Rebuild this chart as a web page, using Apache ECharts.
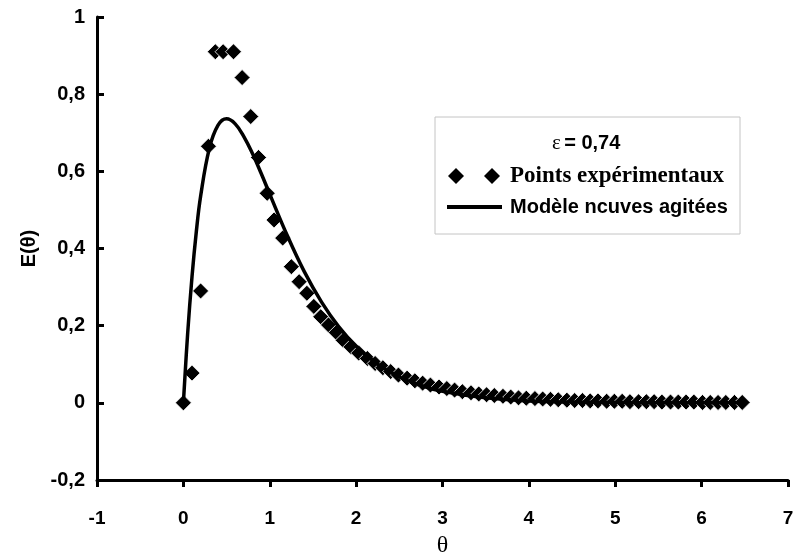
<!DOCTYPE html>
<html>
<head>
<meta charset="utf-8">
<script src="https://cdn.jsdelivr.net/npm/echarts@6/dist/echarts.min.js"></script>
<style>
  html, body { margin: 0; padding: 0; background: #fff; }
  #chart { width: 795px; height: 559px; }
</style>
</head>
<body>
<div id="chart"></div>
<script>
// Reduced residence time θ of the experimental samples
var thetaExp = [
  0.00, 0.10, 0.20, 0.29, 0.37, 0.46, 0.58, 0.68, 0.78, 0.87,
  0.97, 1.05, 1.15, 1.25, 1.34, 1.43, 1.51, 1.59, 1.68, 1.77,
  1.85, 1.94, 2.03, 2.13, 2.22, 2.31, 2.40, 2.49, 2.59, 2.68,
  2.77, 2.86, 2.96, 3.05, 3.14, 3.23, 3.33, 3.42, 3.51, 3.60,
  3.70, 3.79, 3.88, 3.97, 4.07, 4.16, 4.25, 4.34, 4.44, 4.53,
  4.62, 4.71, 4.80, 4.90, 4.99, 5.08, 5.17, 5.27, 5.36, 5.45,
  5.54, 5.64, 5.73, 5.82, 5.91, 6.01, 6.10, 6.19, 6.28, 6.38,
  6.47
];
// Measured E(θ)
var eExp = [
  0.000, 0.077, 0.290, 0.665, 0.910, 0.910, 0.910, 0.843, 0.742, 0.636,
  0.543, 0.474, 0.427, 0.353, 0.314, 0.284, 0.250, 0.223, 0.202, 0.182,
  0.162, 0.145, 0.129, 0.115, 0.102, 0.091, 0.081, 0.072, 0.064, 0.057,
  0.051, 0.046, 0.041, 0.037, 0.033, 0.029, 0.026, 0.023, 0.021, 0.019,
  0.017, 0.015, 0.013, 0.012, 0.011, 0.010, 0.009, 0.008, 0.007, 0.006,
  0.006, 0.005, 0.005, 0.004, 0.004, 0.004, 0.003, 0.003, 0.003, 0.003,
  0.002, 0.002, 0.002, 0.002, 0.002, 0.001, 0.001, 0.001, 0.001, 0.001,
  0.001
];
// Tanks-in-series model curve
var thetaModel = [
  0, 0.05, 0.1, 0.15, 0.2, 0.3, 0.4, 0.5, 0.6, 0.7, 0.8, 0.9, 1.0,
  1.2, 1.4, 1.6, 1.8, 2.0, 2.25, 2.5, 2.75, 3.0, 3.5, 4.0, 4.5, 5.0,
  5.5, 6.0, 6.5
];
var eModel = [
  0.000, 0.181, 0.327, 0.444, 0.536, 0.659, 0.719, 0.736, 0.723, 0.690,
  0.646, 0.595, 0.541, 0.435, 0.340, 0.261, 0.197, 0.147, 0.100, 0.067,
  0.045, 0.030, 0.013, 0.005, 0.002, 0.001, 0.000, 0.000, 0.000
];

var xTicks = { min: -1, max: 7, step: 1 };
var yTicks = { min: -0.2, max: 1, step: 0.2 };

var seriesExpName = 'Points expérimentaux';
var seriesModelName = 'Modèle ncuves agitées';
var epsilonLabel = '0,74';

function zip(xs, ys) {
  return xs.map(function (x, i) { return [x, ys[i]]; });
}
function commaNumber(v) {
  return String(Math.round(v * 10) / 10).replace('.', ',');
}
function diamond(cx, cy, r) {
  return {
    type: 'polygon', z: 6,
    shape: { points: [[cx - r, cy], [cx, cy - r], [cx + r, cy], [cx, cy + r]] },
    style: { fill: '#000' }
  };
}

var sansBold = 'Liberation Sans';
var serif = 'Liberation Serif';

var chart = echarts.init(document.getElementById('chart'), null, { renderer: 'canvas' });

chart.setOption({
  backgroundColor: '#ffffff',
  animation: false,
  grid: { left: 97, right: 7, top: 17, bottom: 79, containLabel: false, outerBoundsMode: 'none' },
  xAxis: {
    type: 'value',
    min: xTicks.min, max: xTicks.max, interval: xTicks.step,
    name: 'θ',
    nameLocation: 'middle',
    nameGap: 54,
    nameTextStyle: { fontFamily: serif, fontSize: 24, color: '#000' },
    axisLine: { onZero: false, lineStyle: { color: '#000', width: 3 } },
    axisTick: { show: true, inside: false, length: 7, lineStyle: { color: '#000', width: 3 } },
    axisLabel: {
      color: '#000', fontFamily: sansBold, fontWeight: 'bold', fontSize: 19, margin: 29,
      formatter: function (v) { return commaNumber(v); }
    },
    splitLine: { show: false }
  },
  yAxis: {
    type: 'value',
    min: yTicks.min, max: yTicks.max, interval: yTicks.step,
    name: 'E(θ)',
    nameLocation: 'middle',
    nameGap: 57,
    nameTextStyle: { fontFamily: sansBold, fontWeight: 'bold', fontSize: 20, color: '#000' },
    axisLine: { onZero: false, lineStyle: { color: '#000', width: 3 } },
    axisTick: { show: true, inside: true, length: 7, lineStyle: { color: '#000', width: 3 } },
    axisLabel: {
      color: '#000', fontFamily: sansBold, fontWeight: 'bold', fontSize: 20, margin: 12,
      formatter: function (v) { return commaNumber(v); }
    },
    splitLine: { show: false }
  },
  legend: [
    {
      left: 448, top: 165, padding: 0,
      itemWidth: 52, itemHeight: 15,
      data: [{ name: seriesExpName, icon: 'none' }],
      textStyle: { fontFamily: serif, fontWeight: 'bold', fontSize: 23, color: '#000', padding: [0, 0, 0, 5], lineHeight: 22 }
    },
    {
      left: 447, top: 196, padding: 0,
      itemWidth: 55, itemHeight: 4,
      data: [{ name: seriesModelName, icon: 'rect' }],
      textStyle: { fontFamily: sansBold, fontWeight: 'bold', fontSize: 20, color: '#000', padding: [0, 0, 0, 3], lineHeight: 22 }
    }
  ],
  graphic: [
    {
      type: 'rect', z: 1,
      shape: { x: 435, y: 117, width: 305, height: 117 },
      style: { fill: '#fff', stroke: '#c4c4c4', lineWidth: 1 }
    },
    {
      type: 'text', z: 5, left: 552, top: 133,
      style: {
        text: '{e|ε} {v|= ' + epsilonLabel + '}',
        rich: {
          e: { fontFamily: serif, fontSize: 21, fill: '#000' },
          v: { fontFamily: sansBold, fontWeight: 'bold', fontSize: 20, fill: '#000' }
        }
      }
    },
    diamond(456, 176, 8),
    diamond(492, 176, 8)
  ],
  series: [
    {
      name: seriesExpName,
      type: 'scatter',
      data: zip(thetaExp, eExp),
      symbol: 'diamond',
      symbolSize: 16,
      itemStyle: { color: '#000', opacity: 1, borderColor: '#fff', borderWidth: 0.8 },
      z: 2
    },
    {
      name: seriesModelName,
      type: 'line',
      data: zip(thetaModel, eModel),
      smooth: 0.4,
      showSymbol: false,
      symbol: 'none',
      lineStyle: { color: '#000', width: 3.5 },
      itemStyle: { color: '#000' },
      z: 3
    }
  ]
});
</script>
</body>
</html>
